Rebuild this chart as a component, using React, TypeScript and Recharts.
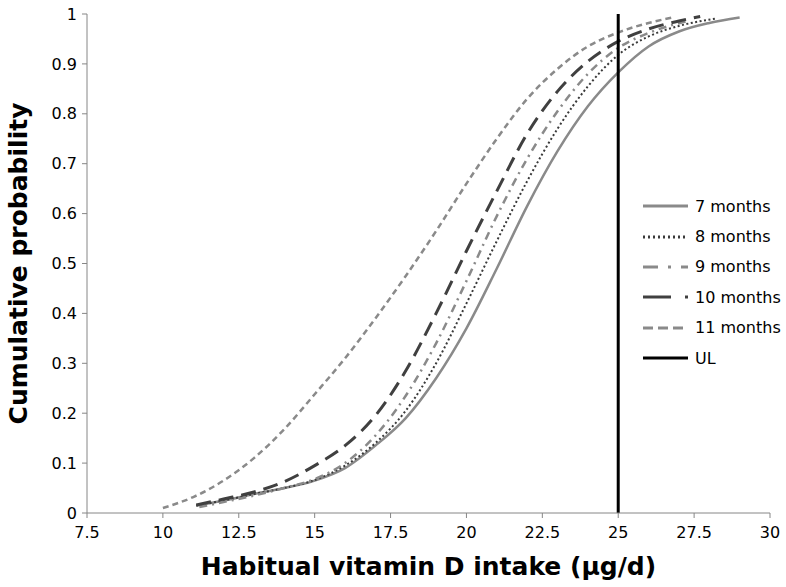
import React from "react";
import { LineChart, Line, XAxis, YAxis, Legend, Label } from "recharts";

// x values (µg/d) and cumulative probability
const m7X = [11.1, 12, 13, 14, 15, 16, 17, 18, 19, 20, 21, 22, 23, 24, 25, 26, 27, 28, 29];
const m7Y = [0.015, 0.025, 0.038, 0.05, 0.065, 0.09, 0.135, 0.19, 0.27, 0.37, 0.49, 0.615, 0.725, 0.815, 0.883, 0.935, 0.965, 0.982, 0.993];

const m8X = [11.1, 12, 13, 14, 15, 16, 17, 18, 19, 20, 21, 22, 23, 24, 25, 26, 27, 28.24];
const m8Y = [0.015, 0.025, 0.038, 0.05, 0.066, 0.095, 0.14, 0.205, 0.3, 0.42, 0.545, 0.665, 0.77, 0.855, 0.918, 0.955, 0.976, 0.991];

const m9X = [11.2, 12, 13, 14, 15, 16, 17, 18, 19, 20, 21, 22, 23, 24, 25, 26, 27.3];
const m9Y = [0.012, 0.022, 0.035, 0.05, 0.068, 0.1, 0.155, 0.235, 0.34, 0.465, 0.595, 0.71, 0.805, 0.88, 0.932, 0.962, 0.986];

const m10X = [11.1, 12, 13, 14, 15, 16, 17, 18, 19, 20, 21, 22, 23, 24, 25, 26, 27, 27.7];
const m10Y = [0.016, 0.028, 0.042, 0.063, 0.095, 0.135, 0.195, 0.285, 0.4, 0.525, 0.645, 0.76, 0.845, 0.905, 0.945, 0.97, 0.986, 0.995];

const m11X = [10, 11, 12, 13, 14, 15, 16, 17, 18, 19, 20, 21, 22, 23, 24, 25, 26, 26.8];
const m11Y = [0.01, 0.032, 0.065, 0.11, 0.168, 0.238, 0.31, 0.39, 0.475, 0.565, 0.66, 0.75, 0.83, 0.89, 0.935, 0.963, 0.982, 0.993];

const ulX = [25, 25];
const ulY = [0, 1];

const seriesNames = ["7 months", "8 months", "9 months", "10 months", "11 months", "UL"];

const xTicks = [7.5, 10, 12.5, 15, 17.5, 20, 22.5, 25, 27.5, 30];
const yTicks = [0, 0.1, 0.2, 0.3, 0.4, 0.5, 0.6, 0.7, 0.8, 0.9, 1];

const toPoints = (xs: number[], ys: number[]) => xs.map((x, i) => ({ x, y: ys[i] }));

const FONT = "'DejaVu Sans', sans-serif";

// dash patterns used in the legend swatches (Excel draws them a bit longer there)
const legendDash: Record<string, string | undefined> = {
    "7 months": undefined,
    "8 months": "2 3",
    "9 months": "15 10 3 10",
    "10 months": "28 14",
    "11 months": "10 5",
    UL: undefined,
};

const renderLegend = (props: any) => {
    const items = [...(props.payload || [])].sort(
        (a: any, b: any) => seriesNames.indexOf(a.value) - seriesNames.indexOf(b.value)
    );
    return (
        <div style={{ fontFamily: FONT, fontSize: 16, color: "#000" }}>
            {items.map((entry: any) => (
                <div key={entry.value} style={{ display: "flex", alignItems: "center", height: 30.4 }}>
                    <svg width={50} height={10} style={{ display: "block" }}>
                        <line
                            x1={3}
                            x2={48}
                            y1={5}
                            y2={5}
                            stroke={entry.color}
                            strokeWidth={3}
                            strokeDasharray={legendDash[entry.value]}
                        />
                    </svg>
                    <span style={{ marginLeft: 5 }}>{entry.value}</span>
                </div>
            ))}
        </div>
    );
};

export default function App() {
    return (
        <div style={{ position: "absolute", left: 0, top: 0, background: "#fff" }}>
            <LineChart width={786} height={587} margin={{ top: 14, right: 16, left: 0, bottom: 0 }}>
                <XAxis
                    type="number"
                    dataKey="x"
                    domain={[7.5, 30]}
                    ticks={xTicks}
                    allowDataOverflow
                    height={74}
                    stroke="#868686"
                    tickSize={5}
                    tickMargin={9}
                    tick={{ fill: "#000", fontSize: 16, fontFamily: FONT }}
                >
                    <Label
                        value="Habitual vitamin D intake (μg/d)"
                        position="insideBottom"
                        offset={12}
                        style={{ fontFamily: FONT, fontSize: 25, fontWeight: "bold", fill: "#000" }}
                    />
                </XAxis>
                <YAxis
                    type="number"
                    dataKey="y"
                    domain={[0, 1]}
                    ticks={yTicks}
                    width={87}
                    stroke="#868686"
                    tickSize={5}
                    tickMargin={5}
                    tick={{ fill: "#000", fontSize: 16, fontFamily: FONT }}
                >
                    <Label
                        value="Cumulative probability"
                        angle={-90}
                        position="insideLeft"
                        offset={18}
                        style={{ fontFamily: FONT, fontSize: 25, fontWeight: "bold", fill: "#000", textAnchor: "middle" }}
                    />
                </YAxis>
                <Legend
                    layout="horizontal"
                    verticalAlign="middle"
                    align="center"
                    content={renderLegend}
                    wrapperStyle={{ left: 640, top: 191, width: 146 }}
                />
                <Line
                    data={toPoints(m7X, m7Y)}
                    dataKey="y"
                    name="7 months"
                    type="monotone"
                    stroke="#8a8a8a"
                    strokeWidth={2.5}
                    dot={false}
                    isAnimationActive={false}
                />
                <Line
                    data={toPoints(m8X, m8Y)}
                    dataKey="y"
                    name="8 months"
                    type="monotone"
                    stroke="#3a3a3a"
                    strokeWidth={2}
                    strokeDasharray="2 2.5"
                    dot={false}
                    isAnimationActive={false}
                />
                <Line
                    data={toPoints(m9X, m9Y)}
                    dataKey="y"
                    name="9 months"
                    type="monotone"
                    stroke="#8a8a8a"
                    strokeWidth={2.5}
                    strokeDasharray="8 5 2 5"
                    dot={false}
                    isAnimationActive={false}
                />
                <Line
                    data={toPoints(m10X, m10Y)}
                    dataKey="y"
                    name="10 months"
                    type="monotone"
                    stroke="#404040"
                    strokeWidth={3}
                    strokeDasharray="15 8"
                    dot={false}
                    isAnimationActive={false}
                />
                <Line
                    data={toPoints(m11X, m11Y)}
                    dataKey="y"
                    name="11 months"
                    type="monotone"
                    stroke="#8a8a8a"
                    strokeWidth={2.5}
                    strokeDasharray="6 4"
                    dot={false}
                    isAnimationActive={false}
                />
                <Line
                    data={toPoints(ulX, ulY)}
                    dataKey="y"
                    name="UL"
                    type="linear"
                    stroke="#000"
                    strokeWidth={3}
                    dot={false}
                    isAnimationActive={false}
                />
            </LineChart>
        </div>
    );
}
